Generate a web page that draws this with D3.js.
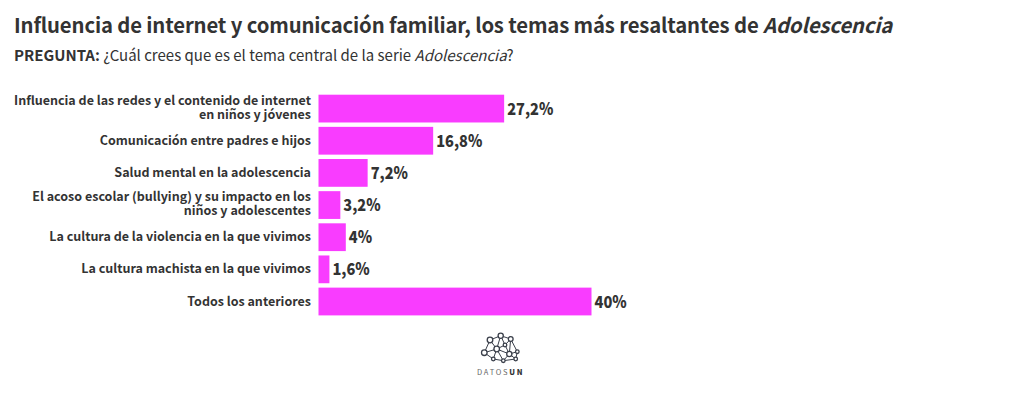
<!DOCTYPE html>
<html><head><meta charset="utf-8">
<script src="https://cdn.jsdelivr.net/npm/d3@7"></script>
<style>
html,body{margin:0;padding:0;background:#fff}
svg{display:block}
text{font-family:"Noto Sans CJK JP","Noto Sans",sans-serif;fill:#333}
</style></head><body>
<svg id="c" width="1020" height="393"></svg>
<script>
const categories = [
  ["Influencia de las redes y el contenido de internet","en niños y jóvenes"],
  ["Comunicación entre padres e hijos"],
  ["Salud mental en la adolescencia"],
  ["El acoso escolar (bullying) y su impacto en los","niños y adolescentes"],
  ["La cultura de la violencia en la que vivimos"],
  ["La cultura machista en la que vivimos"],
  ["Todos los anteriores"]
];
const values = [27.2,16.8,7.2,3.2,4,1.6,40];
const valueLabels = ["27,2%","16,8%","7,2%","3,2%","4%","1,6%","40%"];
const logoNodes = [[490,340,2.8],[500.7,335.7,2.6],[510.7,339,2.4],[484.3,352.7,2.8],[496.7,349,2.8],[505,345,1.8],[509.3,354,2.6],[517.3,351.7,1.8],[493.3,359,1.8],[503.3,360.7,1.8],[515.7,359,1.8]];
const logoLinks = [[0,1],[1,2],[0,3],[0,4],[1,4],[3,4],[4,5],[2,5],[2,6],[2,7],[5,6],[6,7],[7,10],[6,10],[4,6],[3,8],[4,8],[8,9],[4,9],[6,9],[9,10],[1,5]];

const svg = d3.select("#c");
const x = d3.scaleLinear().domain([0,40]).range([318.5,591.5]);
const y = d3.scaleBand().domain(d3.range(values.length)).range([94.7,315.4]).paddingInner(0.136).paddingOuter(0);

const title = svg.append("text").attr("x",14).attr("y",33).attr("font-size",20.3).attr("font-weight",700).attr("letter-spacing",-0.135);
title.append("tspan").text("Influencia de internet y comunicación familiar, los temas más resaltantes de ");
title.append("tspan").attr("font-style","italic").text("Adolescencia");

const sub = svg.append("text").attr("x",14).attr("y",61).attr("font-size",15);
sub.append("tspan").attr("font-weight",700).text("PREGUNTA: ");
sub.append("tspan").text("¿Cuál crees que es el tema central de la serie ");
sub.append("tspan").attr("font-style","italic").text("Adolescencia");
sub.append("tspan").text("?");

svg.selectAll("rect.bar").data(values).join("rect").attr("class","bar")
  .attr("x",x(0)).attr("y",(d,i)=>y(i)).attr("width",d=>x(d)-x(0)).attr("height",y.bandwidth())
  .attr("fill","#f93cff");

svg.selectAll("text.val").data(values).join("text").attr("class","val")
  .attr("transform",(d,i)=>`translate(${x(d)+3},${y(i)+y.bandwidth()/2+0.5}) scale(0.885,1)`)
  .attr("dy","0.34em")
  .attr("font-size",16.5).attr("font-weight",900)
  .text((d,i)=>valueLabels[i]);

const lab = svg.selectAll("text.lab").data(categories).join("text").attr("class","lab")
  .attr("text-anchor","end").attr("font-size",12.5).attr("font-weight",700);
lab.each(function(lines,i){
  const cy = y(i)+y.bandwidth()/2 + (lines.length>1?-1:0), lh = 14;
  d3.select(this).selectAll("tspan").data(lines).join("tspan")
    .attr("x",311).attr("y",(l,j)=>cy+(j-(lines.length-1)/2)*lh+4).text(l=>l);
});

const logo = svg.append("g");
logo.selectAll("line").data(logoLinks).join("line")
  .attr("x1",d=>logoNodes[d[0]][0]).attr("y1",d=>logoNodes[d[0]][1])
  .attr("x2",d=>logoNodes[d[1]][0]).attr("y2",d=>logoNodes[d[1]][1])
  .attr("stroke","#3a3f4a").attr("stroke-width",1);
logo.selectAll("circle").data(logoNodes).join("circle")
  .attr("cx",d=>d[0]).attr("cy",d=>d[1]).attr("r",d=>d[2])
  .attr("fill","#fff").attr("stroke","#3a3f4a").attr("stroke-width",1.3);
const lt = svg.append("text").attr("x",477).attr("y",374.5).attr("font-size",7.5).attr("letter-spacing",1.75);
lt.append("tspan").style("fill","#666").text("DATOS");
lt.append("tspan").attr("font-weight",900).text("UN");
</script></body></html>
